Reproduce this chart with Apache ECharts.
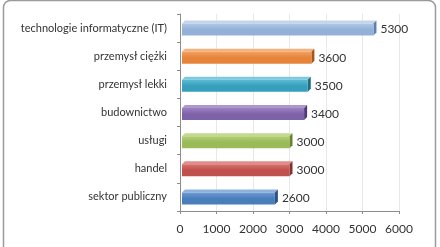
<!DOCTYPE html>
<html><head><meta charset="utf-8">
<script src="https://cdn.jsdelivr.net/npm/echarts@6/dist/echarts.min.js"></script>
<style>html,body{margin:0;padding:0;background:#fff}#c{width:440px;height:247px}</style>
</head><body><div id="c"></div>
<script>
const categories = ['sektor publiczny','handel','usługi','budownictwo','przemysł lekki','przemysł ciężki','technologie informatyczne (IT)'];
const values = [2600, 3000, 3000, 3400, 3500, 3600, 5300];
const xTicks = [0, 1000, 2000, 3000, 4000, 5000, 6000];
const palette = [
  {light:'#6f9bd4', front:'#4a7ebb', dark:'#2c5488', top:'#8fb1dc'},
  {light:'#d8706d', front:'#c0504d', dark:'#86302e', top:'#e08c8a'},
  {light:'#b3cf78', front:'#9bbb59', dark:'#66842c', top:'#c2d98f'},
  {light:'#9d82c2', front:'#7e62a8', dark:'#4e3a72', top:'#ad97cd'},
  {light:'#5cbad3', front:'#36a0bc', dark:'#1d6c80', top:'#7ec9dc'},
  {light:'#f3a060', front:'#e6843a', dark:'#a5561a', top:'#f5b27e'},
  {light:'#b0c8e6', front:'#93b1d8', dark:'#5f7fae', top:'#c3d5ec'}
];
const chart = echarts.init(document.getElementById('c'), null, {renderer:'canvas'});
const FONT = 'Lato';
chart.setOption({
  animation:false,
  backgroundColor:'#ffffff',
  grid:{left:180, right:41, top:14, bottom:36},
  xAxis:{type:'value', min:xTicks[0], max:xTicks[xTicks.length-1], interval:1000,
    axisLine:{show:true, lineStyle:{color:'#8c8c8c'}},
    axisTick:{show:true, length:3, lineStyle:{color:'#8c8c8c'}},
    axisLabel:{color:'#333', fontFamily:FONT, fontSize:12, margin:12, formatter:v=>String(v)},
    splitLine:{show:true, lineStyle:{color:'#e8e8e8'}}},
  yAxis:{type:'category', data:categories,
    axisLine:{show:true, lineStyle:{color:'#8c8c8c'}},
    axisTick:{show:true, length:3, lineStyle:{color:'#8c8c8c'}},
    axisLabel:{color:'#333', fontFamily:FONT, fontSize:11, margin:13}},
  graphic:[{type:'rect', shape:{x:3.5, y:0.5, width:432, height:270, r:7},
    style:{fill:null, stroke:'#9a9a9a', lineWidth:1.5}, z:-1}],
  series:[{type:'custom', data:values.map((v,i)=>[v,i]),
    encode:{x:0, y:1},
    renderItem:function(params, api){
      const i = api.value(1), v = api.value(0);
      const s = api.coord([0, i]), e = api.coord([v, i]);
      const c = s[1], d = 3;
      const x0 = s[0] + 2, x1 = e[0];
      const yt = c - 4.5, yb = c + 7.5;
      const p = palette[i];
      return {type:'group', children:[
        {type:'polygon', shape:{points:[[x0,yt],[x1,yt],[x1+d,yt-d],[x0+d,yt-d]]}, style:{fill:p.top}},
        {type:'polygon', shape:{points:[[x1,yt],[x1+d,yt-d],[x1+d,yb-d],[x1,yb]]}, style:{fill:p.dark}},
        {type:'rect', shape:{x:x0, y:yt, width:x1-x0, height:yb-yt},
          style:{fill:new echarts.graphic.LinearGradient(0,0,0,1,[{offset:0,color:p.light},{offset:0.5,color:p.front},{offset:1,color:p.front}])}},
        {type:'text', x:x1+d+4, y:c+1.5, style:{text:String(v), fill:'#333', font:'12px '+FONT, verticalAlign:'middle', align:'left'}}
      ]};
    }
  }]
});
</script></body></html>
